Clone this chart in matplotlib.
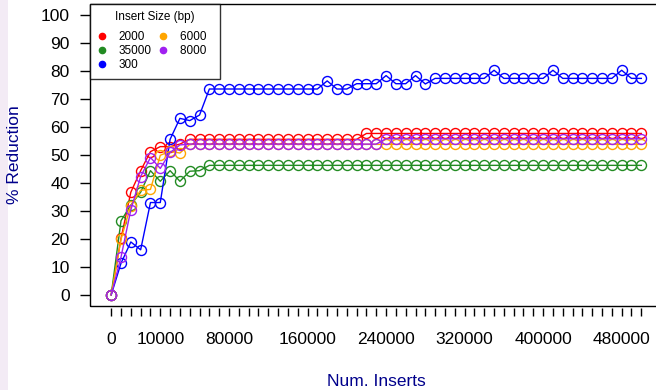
import numpy as np
import matplotlib
matplotlib.use("Agg")
import matplotlib.pyplot as plt
from matplotlib.patches import Rectangle

plt.rcParams['font.family'] = ['Liberation Sans', 'DejaVu Sans']

# number of inserts (categories, evenly spaced on the x axis)
inserts = [0, 2000, 4000, 6000, 8000,
           10000, 20000, 30000, 40000, 50000, 60000, 70000, 80000, 90000, 100000,
           110000, 120000, 130000, 140000, 150000, 160000, 170000, 180000, 190000, 200000,
           210000, 220000, 230000, 240000, 250000, 260000, 270000, 280000, 290000, 300000,
           310000, 320000, 330000, 340000, 350000, 360000, 370000, 380000, 390000, 400000,
           410000, 420000, 430000, 440000, 450000, 460000, 470000, 480000, 490000, 500000]
shown_labels = [0, 10000, 80000, 160000, 240000, 320000, 400000, 480000]

red_2000 = [0, 20.2, 36.7, 44.4, 51.2, 53.0, 53.0, 53.9] + [55.6] * 18 + [57.7] * 29
green_35000 = [0, 26.5, 32.1, 36.7, 44.4, 40.6, 44.4, 40.6, 44.2, 44.4] + [46.3] * 45
blue_300 = ([0, 11.3, 18.9, 16.1, 33.0, 33.0, 55.6, 63.1, 62.3, 64.3]
            + [73.6] * 12 + [76.5, 73.6, 73.6, 75.5, 75.5, 75.5, 78.4, 75.5, 75.5, 78.4, 75.4]
            + [77.4] * 6 + [80.3] + [77.4] * 5 + [80.3] + [77.4] * 6 + [80.3, 77.4, 77.4])
orange_6000 = [0, 19.9, 31.9, 37.4, 37.7, 49.9, 51.3, 50.7] + [53.8] * 47
purple_8000 = [0, 13.5, 30.4, 42.3, 49.1, 45.2, 50.9, 53.6] + [53.9] * 20 + [55.8] * 27

series = [("2000", red_2000, "#FF0000"),
          ("35000", green_35000, "#228B22"),
          ("300", blue_300, "#0000FF"),
          ("6000", orange_6000, "#FFA500"),
          ("8000", purple_8000, "#A020F0")]

fig = plt.figure(figsize=(6.56, 3.9), dpi=100)
fig.add_artist(Rectangle((0, 0), 8 / 656, 1, transform=fig.transFigure,
                         color="#f3ebf5", lw=0))
ax = fig.add_axes([90 / 656, 84 / 390, 572.5 / 656, 302 / 390])

pos = np.arange(len(inserts))
for name, vals, col in series:
    ax.plot(pos, vals, color=col, lw=1.0, marker='o', ms=7.2, mfc='none',
            mec=col, mew=1.0)

ax.set_xlim(-0.04 * (len(inserts) - 1), (len(inserts) - 1) * 1.04)
ax.set_ylim(-4, 104)

ax.set_xticks(pos)
ax.set_xticklabels([str(v) if v in shown_labels else "" for v in inserts])
ax.set_yticks(np.arange(0, 101, 10))
ax.tick_params(axis='y', length=7, width=1, pad=7.5, labelsize=12.5)
ax.tick_params(axis='x', length=6, width=1, pad=11, labelsize=12.5)

# box drawn separately, x ticks hang just below it
ax.spines['bottom'].set_position(('outward', 1.5))
ax.spines['bottom'].set_visible(False)
for s in ['top', 'left', 'right']:
    ax.spines[s].set_visible(False)
ax.add_patch(Rectangle((0, 0), 1, 1, transform=ax.transAxes, fill=False,
                       lw=1.0, ec='black', clip_on=False, zorder=5))

handles = [plt.Line2D([], [], ls='none', marker='o', ms=4.5, color=c)
           for _, _, c in series]
labels = [n if i < 3 else n + "  " for i, (n, _, _) in enumerate(series)]
leg = ax.legend(handles, labels, title="Insert Size (bp)",
                loc='upper left', bbox_to_anchor=(0, 1), ncol=2, frameon=True,
                fancybox=False, edgecolor='black', fontsize=8.5,
                title_fontsize=8.5, handlelength=0.8, handletextpad=1.0,
                columnspacing=0.6, labelspacing=0.2, borderaxespad=0,
                borderpad=0.6)
leg._legend_box.sep = 5.5
leg.get_frame().set_linewidth(1.0)
leg.set_zorder(6)

fig.text(15 / 656, (390 - 155) / 390, "% Reduction", rotation=90,
         ha='center', va='center', fontsize=12.5, color='#00008B')
fig.text(376 / 656, (390 - 382) / 390, "Num. Inserts",
         ha='center', va='center', fontsize=12.5, color='#00008B')

fig.savefig("out.png", dpi=100)
